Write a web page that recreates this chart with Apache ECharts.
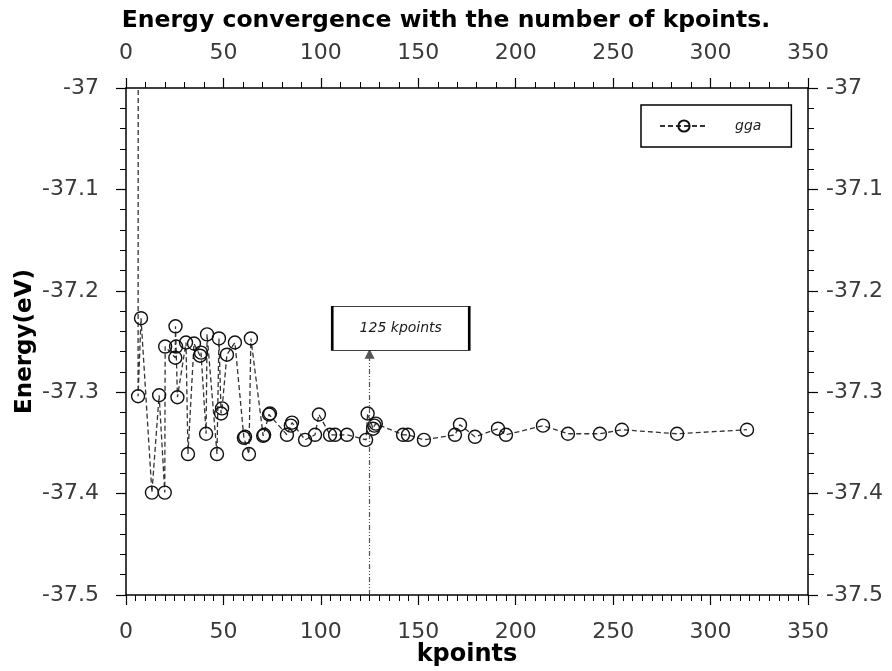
<!DOCTYPE html>
<html>
<head>
<meta charset="utf-8">
<script src="https://cdn.jsdelivr.net/npm/echarts@6/dist/echarts.min.js"></script>
<style>html,body{margin:0;padding:0;background:#fff}#c{width:892px;height:671px}</style>
</head>
<body>
<div id="c"></div>
<script>
var kpoints = [6.5, 6.2, 7.7, 13.3, 17.0, 19.9, 20.1, 25.3, 25.4, 25.7, 26.4, 30.8, 31.8, 34.9, 38.0, 38.5, 41.1, 41.6, 46.7, 47.7, 48.8, 49.3, 51.8, 55.9, 60.5, 61.1, 63.1, 64.1, 70.4, 70.9, 73.4, 73.9, 82.6, 84.6, 85.2, 91.9, 97.0, 99.0, 104.7, 107.3, 113.4, 123.2, 124.0, 126.8, 127.5, 128.2, 142.2, 144.7, 152.9, 168.8, 171.4, 179.1, 190.9, 195.0, 214.0, 226.8, 243.2, 254.5, 282.8, 318.7];
var energy = [-36.0, -37.304, -37.227, -37.399, -37.303, -37.399, -37.255, -37.266, -37.235, -37.255, -37.305, -37.251, -37.361, -37.252, -37.264, -37.261, -37.341, -37.243, -37.361, -37.247, -37.321, -37.316, -37.263, -37.251, -37.345, -37.344, -37.361, -37.247, -37.343, -37.342, -37.322, -37.321, -37.342, -37.333, -37.330, -37.347, -37.342, -37.322, -37.342, -37.342, -37.342, -37.347, -37.321, -37.336, -37.333, -37.331, -37.342, -37.342, -37.347, -37.342, -37.332, -37.344, -37.336, -37.342, -37.333, -37.341, -37.341, -37.337, -37.341, -37.337];
var seriesName = 'gga';
var annotationK = 125;
var annotationText = '125 kpoints';
var xRange = [0, 350];
var yRange = [-37.5, -37];

var pts = kpoints.map(function (k, i) { return [k, energy[i]]; });
var FONT = 'DejaVu Sans';
var labelStyle = { fontFamily: FONT, fontSize: 22, color: '#3a3a3a' };

function xAx(pos, split, margin) {
  return {
    type: 'value', position: pos, min: xRange[0], max: xRange[1], interval: 50,
    axisLine: { show: true, onZero: false, lineStyle: { color: '#000', width: 1.5 } },
    axisTick: { show: true, inside: false, length: 10, lineStyle: { color: '#000', width: 1.2 } },
    minorTick: { show: true, splitNumber: split, length: 6, lineStyle: { color: '#000', width: 1 } },
    splitLine: { show: false },
    axisLabel: Object.assign({ margin: margin }, labelStyle)
  };
}
function yAx(pos, margin) {
  return {
    type: 'value', position: pos, min: yRange[0], max: yRange[1], interval: 0.1,
    axisLine: { show: true, onZero: false, lineStyle: { color: '#000', width: 1.5 } },
    axisTick: { show: true, inside: false, length: 10, lineStyle: { color: '#000', width: 1.2 } },
    minorTick: { show: true, splitNumber: 5, length: 6, lineStyle: { color: '#000', width: 1 } },
    splitLine: { show: false },
    axisLabel: Object.assign({ margin: margin }, labelStyle)
  };
}

var xBottom = xAx('bottom', 10, 26);
xBottom.name = 'kpoints';
xBottom.nameLocation = 'middle';
xBottom.nameGap = 48;
xBottom.nameMoveOverlap = false;
xBottom.nameTextStyle = { fontFamily: FONT, fontWeight: 'bold', fontSize: 24, color: '#000' };
var xTop = xAx('top', 5, 24);
var yLeft = yAx('left', 27);
yLeft.name = 'Energy(eV)';
yLeft.nameLocation = 'middle';
yLeft.nameGap = 89;
yLeft.nameMoveOverlap = false;
yLeft.nameRotate = 90;
yLeft.nameTextStyle = { fontFamily: FONT, fontWeight: 'bold', fontSize: 23, color: '#000' };
var yRight = yAx('right', 18);

var chart = echarts.init(document.getElementById('c'), null, { renderer: 'canvas' });
chart.setOption({
  animation: false,
  backgroundColor: '#fff',
  title: {
    text: 'Energy convergence with the number of kpoints.',
    left: 'center', top: 4,
    textStyle: { fontFamily: FONT, fontWeight: 'bold', fontSize: 23.5, color: '#000' }
  },
  legend: {
    data: [seriesName],
    left: 641, top: 105,
    orient: 'vertical',
    borderColor: '#000', borderWidth: 1.5, borderRadius: 0,
    padding: [14, 30, 14, 18],
    itemWidth: 48, itemHeight: 14, itemGap: 0,
    textStyle: { fontFamily: FONT, fontStyle: 'italic', fontSize: 14, color: '#222', padding: [0, 0, 0, 22] }
  },
  grid: { left: 126, right: 84, top: 88, bottom: 76, containLabel: false, outerBoundsMode: 'none' },
  xAxis: [xBottom, xTop],
  yAxis: [yLeft, yRight],
  series: [{
    name: seriesName,
    type: 'line',
    xAxisIndex: 0, yAxisIndex: 0,
    data: pts,
    clip: true,
    symbol: 'circle',
    symbolSize: 13,
    showAllSymbol: true,
    itemStyle: { color: 'rgba(255,255,255,0)', borderColor: '#111', borderWidth: 1.4 },
    lineStyle: { color: '#333', width: 1.3, type: [5, 3] },
    markLine: {
      silent: true,
      symbol: ['none', 'triangle'],
      symbolSize: [10, 10],
      label: { show: false },
      lineStyle: { color: '#555', width: 1.2, type: [5, 2, 1, 2, 1, 2] },
      data: [[{ coord: [annotationK, yRange[0]] }, { coord: [annotationK, -37.262] }]]
    },
    markPoint: {
      silent: true,
      symbol: 'rect',
      symbolSize: [137, 44],
      itemStyle: { color: '#fff', borderColor: '#000', borderWidth: 1.5 },
      label: { show: true, position: 'inside', formatter: annotationText, fontFamily: FONT, fontStyle: 'italic', fontSize: 14, color: '#1a1a1a' },
      data: [{ coord: [141, -37.237] }]
    }
  }]
});
</script>
</body>
</html>
